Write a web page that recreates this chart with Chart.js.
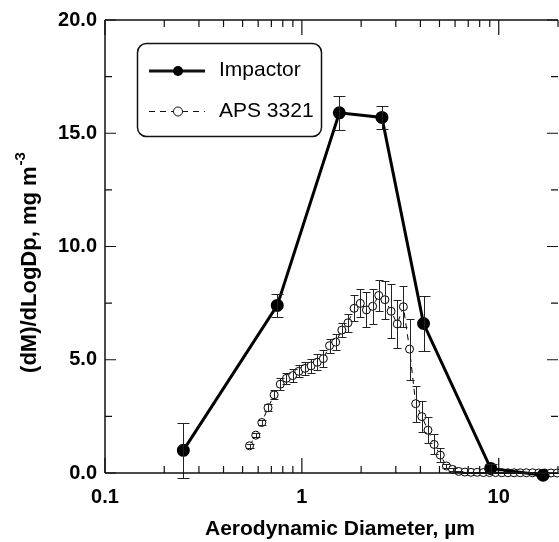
<!DOCTYPE html>
<html>
<head>
<meta charset="utf-8">
<script src="https://cdn.jsdelivr.net/npm/chart.js@4.4.1/dist/chart.umd.min.js"></script>
<style>
  html, body { margin: 0; padding: 0; background: #fff; overflow: hidden; }
  #wrap { width: 566px; height: 542px; }
</style>
</head>
<body>
<div id="wrap"><canvas id="size-chart" width="566" height="542"></canvas></div>
<script>
// Impactor stages
var impactorX = [0.25, 0.75, 1.55, 2.55, 4.15, 9.1, 16.8];
var impactorY = [1.0, 7.4, 15.9, 15.7, 6.6, 0.2, -0.1];
var impactorErr = [1.2, 0.5, 0.75, 0.5, 1.2, 0.2, 0];

// APS 3321 channels (midpoints, um)
var apsX = [0.542, 0.583, 0.626, 0.673, 0.723, 0.777, 0.835, 0.898, 0.965, 1.037,
  1.114, 1.197, 1.286, 1.382, 1.486, 1.596, 1.715, 1.843, 1.981, 2.129,
  2.288, 2.458, 2.642, 2.839, 3.051, 3.278, 3.523, 3.786, 4.068, 4.371,
  4.698, 5.048, 5.425, 5.829, 6.264, 6.732, 7.234, 7.774, 8.354, 8.977,
  9.647, 10.37, 11.14, 11.97, 12.86, 13.82, 14.86, 15.96, 17.15, 18.43, 19.81];
var apsY = [1.20, 1.67, 2.23, 2.88, 3.45, 3.92, 4.18, 4.30, 4.49, 4.62,
  4.73, 4.89, 5.05, 5.62, 5.78, 6.31, 6.63, 7.27, 7.49, 7.20,
  7.36, 7.84, 7.65, 7.14, 6.58, 7.34, 5.47, 3.06, 2.49, 1.89,
  1.26, 0.79, 0.31, 0.16, 0.07, 0.04, 0.03, 0.03, 0.02, 0.02,
  0.02, 0.01, 0.01, 0.01, 0.01, 0.01, 0.01, 0.00, 0.00, 0.00, 0.00];
var apsErr = [0.08, 0.1, 0.12, 0.15, 0.2, 0.27, 0.25, 0.3, 0.26, 0.3,
  0.3, 0.35, 0.37, 0.3, 0.37, 0.3, 0.4, 0.58, 0.62, 0.77,
  0.77, 0.7, 0.84, 1.2, 1.06, 0.9, 1.35, 0.8, 0.68, 0.58,
  0.44, 0.3, 0.1, 0.05, 0.03, 0.02, 0.02, 0.02, 0.02, 0.02,
  0.02, 0.02, 0.02, 0.02, 0.02, 0.02, 0.02, 0.02, 0.02, 0.02, 0.02];

var xTicks = [0.1, 1, 10];
var yTicks = [0, 5, 10, 15, 20];
var yMinorTicks = [2.5, 7.5, 12.5, 17.5];

var FONT = "'Liberation Sans', Arial, sans-serif";

function toPoints(xs, ys) {
  return xs.map(function (x, i) { return { x: x, y: ys[i] }; });
}

function drawErrors(chart, idx, err, cap) {
  var ctx = chart.ctx, sx = chart.scales.x, sy = chart.scales.y;
  var pts = chart.data.datasets[idx].data;
  ctx.save();
  ctx.strokeStyle = "#222";
  ctx.lineWidth = 1;
  pts.forEach(function (p, i) {
    var e = err[i];
    if (!e) return;
    var px = Math.round(sx.getPixelForValue(p.x)) + 0.5;
    var y1 = Math.round(sy.getPixelForValue(p.y + e)) + 0.5;
    var y2 = Math.round(sy.getPixelForValue(p.y - e)) + 0.5;
    ctx.beginPath();
    ctx.moveTo(px, y1); ctx.lineTo(px, y2);
    ctx.moveTo(px - cap, y1); ctx.lineTo(px + cap, y1);
    ctx.moveTo(px - cap, y2); ctx.lineTo(px + cap, y2);
    ctx.stroke();
  });
  ctx.restore();
}

// error bars, frame with inward ticks, axis titles and the boxed legend
var decor = {
  id: "decor",
  afterDatasetsDraw: function (chart) {
    drawErrors(chart, 0, impactorErr, 6);
    drawErrors(chart, 1, apsErr, 4);
  },
  afterDraw: function (chart) {
    var ctx = chart.ctx, a = chart.chartArea;
    var sx = chart.scales.x, sy = chart.scales.y;
    ctx.save();
    ctx.strokeStyle = "#111";
    ctx.lineWidth = 1.5;
    ctx.beginPath();
    ctx.moveTo(a.left, a.top); ctx.lineTo(a.right, a.top);
    ctx.moveTo(a.left, a.top); ctx.lineTo(a.left, a.bottom);
    ctx.moveTo(a.left, a.bottom); ctx.lineTo(a.right, a.bottom);
    ctx.stroke();

    ctx.lineWidth = 1.2;
    ctx.beginPath();
    for (var d = 0.1; d < 20; d *= 10) {
      for (var m = 1; m <= 9; m++) {
        var v = d * m;
        if (v > 20.001) break;
        var px = sx.getPixelForValue(v);
        var len = m === 1 ? 15 : 7;
        ctx.moveTo(px, a.bottom); ctx.lineTo(px, a.bottom - len);
        ctx.moveTo(px, a.top); ctx.lineTo(px, a.top + len);
      }
    }
    yTicks.forEach(function (v) {
      var py = sy.getPixelForValue(v);
      ctx.moveTo(a.left, py); ctx.lineTo(a.left + 11, py);
      ctx.moveTo(a.right, py); ctx.lineTo(a.right - 11, py);
    });
    yMinorTicks.forEach(function (v) {
      var py = sy.getPixelForValue(v);
      ctx.moveTo(a.left, py); ctx.lineTo(a.left + 7, py);
      ctx.moveTo(a.right, py); ctx.lineTo(a.right - 7, py);
    });
    ctx.stroke();

    // x title
    ctx.fillStyle = "#000";
    ctx.font = "bold 21px " + FONT;
    ctx.textAlign = "center";
    ctx.textBaseline = "middle";
    ctx.fillText("Aerodynamic Diameter, \u00b5m", 340, 529);

    // y title with superscript
    ctx.save();
    ctx.translate(30, 263);
    ctx.rotate(-Math.PI / 2);
    var main = "(dM)/dLogDp, mg m", sup = "-3";
    ctx.font = "bold 22px " + FONT;
    var w1 = ctx.measureText(main).width;
    ctx.font = "bold 15px " + FONT;
    var w2 = ctx.measureText(sup).width;
    var x0 = -(w1 + w2) / 2;
    ctx.textAlign = "left";
    ctx.font = "bold 22px " + FONT;
    ctx.fillText(main, x0, 0);
    ctx.font = "bold 15px " + FONT;
    ctx.fillText(sup, x0 + w1 + 1, -9);
    ctx.restore();

    // legend box
    ctx.lineWidth = 1.5;
    ctx.strokeStyle = "#111";
    ctx.beginPath();
    ctx.roundRect(137.5, 43.5, 184, 93, 9);
    ctx.stroke();

    ctx.lineWidth = 3;
    ctx.beginPath();
    ctx.moveTo(149, 71); ctx.lineTo(205, 71);
    ctx.stroke();
    ctx.beginPath();
    ctx.arc(178, 71, 5, 0, Math.PI * 2);
    ctx.fill();

    ctx.lineWidth = 1;
    ctx.setLineDash([6, 5]);
    ctx.beginPath();
    ctx.moveTo(149, 111.5); ctx.lineTo(205, 111.5);
    ctx.stroke();
    ctx.setLineDash([]);
    ctx.beginPath();
    ctx.arc(178, 111.5, 4.5, 0, Math.PI * 2);
    ctx.fillStyle = "#fff";
    ctx.fill();
    ctx.stroke();

    ctx.fillStyle = "#000";
    ctx.font = "21px " + FONT;
    ctx.textAlign = "left";
    ctx.textBaseline = "middle";
    ctx.fillText("Impactor", 219, 70);
    ctx.fillText("APS 3321", 219, 111);
    ctx.restore();
  }
};

var ctx = document.getElementById("size-chart").getContext("2d");
var sizeChart = new Chart(ctx, {
  type: "scatter",
  data: {
    datasets: [
      {
        label: "Impactor",
        data: toPoints(impactorX, impactorY),
        showLine: true,
        borderColor: "#000",
        borderWidth: 3,
        pointRadius: 5,
        pointBackgroundColor: "#000",
        pointBorderColor: "#000",
        clip: false,
      },
      {
        label: "APS 3321",
        data: toPoints(apsX, apsY),
        showLine: true,
        borderColor: "#000",
        borderWidth: 1,
        borderDash: [6, 5],
        pointRadius: 4,
        pointBorderWidth: 1,
        pointBackgroundColor: "#fff",
        pointBorderColor: "#000",
        clip: false,
      },
    ],
  },
  options: {
    responsive: false,
    animation: false,
    devicePixelRatio: 1,
    layout: { padding: { top: 17, right: 3, left: 0, bottom: 0 } },
    plugins: { legend: { display: false }, tooltip: { enabled: false } },
    scales: {
      x: {
        type: "logarithmic",
        min: 0.1,
        max: 20,
        grid: { display: false, drawTicks: false },
        border: { display: false },
        afterBuildTicks: function (s) {
          s.ticks = xTicks.map(function (v) { return { value: v }; });
        },
        afterFit: function (s) { s.height = 69; },
        ticks: {
          autoSkip: false,
          maxRotation: 0,
          padding: 12,
          color: "#000",
          font: { family: FONT, size: 20, weight: "bold" },
          callback: function (v) { return String(v); },
        },
      },
      y: {
        min: 0,
        max: 20,
        grid: { display: false, drawTicks: false },
        border: { display: false },
        afterBuildTicks: function (s) {
          s.ticks = yTicks.map(function (v) { return { value: v }; });
        },
        afterFit: function (s) { s.width = 105; },
        ticks: {
          padding: 8,
          color: "#000",
          font: { family: FONT, size: 20, weight: "bold" },
          callback: function (v) { return v.toFixed(1); },
        },
      },
    },
  },
  plugins: [decor],
});
</script>
</body>
</html>
